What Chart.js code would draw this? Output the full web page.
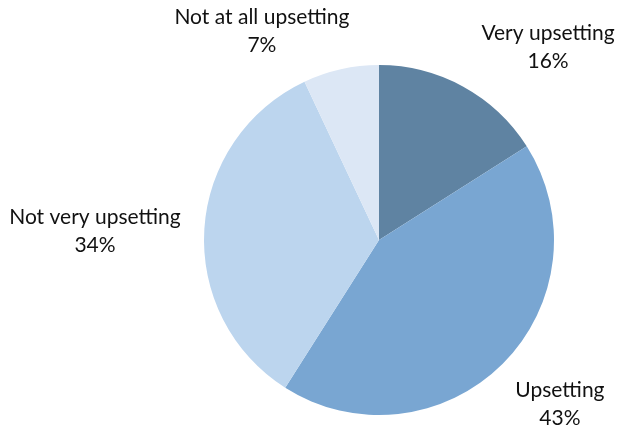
<!DOCTYPE html>
<html>
<head>
<meta charset="utf-8">
<script src="https://cdn.jsdelivr.net/npm/chart.js@4.4.1/dist/chart.umd.min.js"></script>
<style>
  html, body { margin: 0; padding: 0; background: #fff; }
  #wrap { width: 621px; height: 428px; position: relative; }
</style>
</head>
<body>
<div id="wrap"><canvas id="upset-chart"></canvas></div>
<script>
// Share of responses per answer
const categories = ['Very upsetting', 'Upsetting', 'Not very upsetting', 'Not at all upsetting'];
const percentages = [16, 43, 34, 7];
const sliceColors = ['#5f83a2', '#79a6d2', '#bcd5ee', '#dce7f5'];

// label centre relative to pie centre, in units of the radius
const labelAnchors = [[0.966, -1.10], [1.034, 0.937], [-1.623, -0.051], [-0.669, -1.194]];

const FONT = "Lato, 'Open Sans', sans-serif";

const outsideLabels = {
    id: 'outsideLabels',
    afterDatasetsDraw(chart) {
        const ctx = chart.ctx;
        const arcs = chart.getDatasetMeta(0).data;
        ctx.save();
        ctx.fillStyle = '#111';
        ctx.font = '21px ' + FONT;
        ctx.textAlign = 'center';
        ctx.textBaseline = 'middle';
        arcs.forEach((arc, i) => {
            const r = arc.outerRadius;
            const x = arc.x + labelAnchors[i][0] * r;
            const y = arc.y + labelAnchors[i][1] * r;
            ctx.fillText(categories[i], x, y - 14);
            ctx.fillText(percentages[i] + '%', x, y + 14);
        });
        ctx.restore();
    }
};

new Chart(document.getElementById('upset-chart'), {
    type: 'pie',
    data: {
        labels: categories,
        datasets: [{
            data: percentages,
            backgroundColor: sliceColors,
            borderWidth: 0
        }]
    },
    options: {
        responsive: true,
        maintainAspectRatio: false,
        animation: false,
        layout: {
            padding: { top: 65, bottom: 13, left: 204, right: 67 }
        },
        plugins: {
            legend: { display: false },
            tooltip: { enabled: false }
        }
    },
    plugins: [outsideLabels]
});
</script>
</body>
</html>
